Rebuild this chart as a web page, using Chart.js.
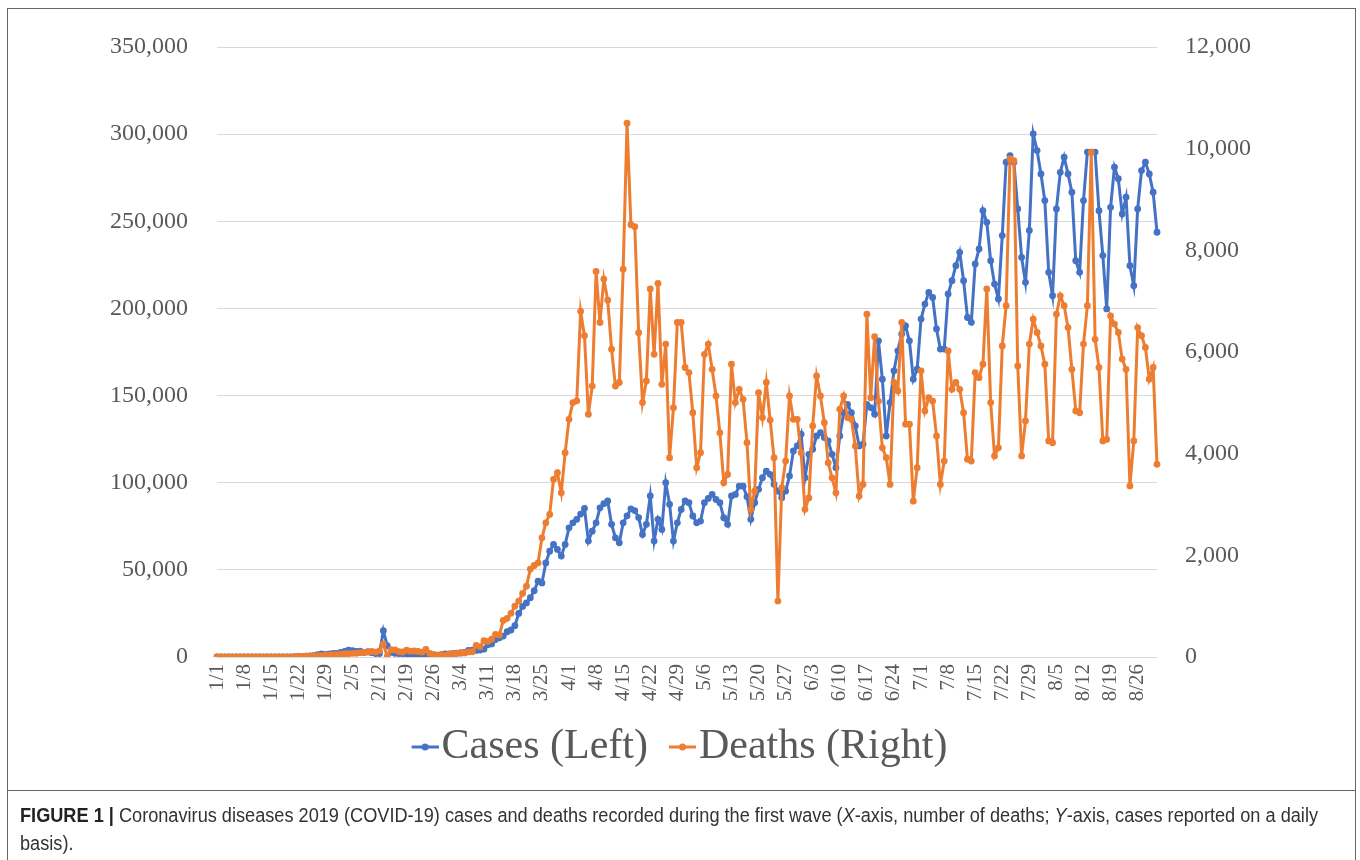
<!doctype html>
<html>
<head>
<meta charset="utf-8" />
<title>COVID-19 first wave</title>
<script src="https://cdn.jsdelivr.net/npm/chart.js@4.4.1/dist/chart.umd.min.js"></script>
<style>
  body { margin: 0; background: #fff; }
  #wrap { position: relative; width: 1360px; height: 860px; overflow: hidden; }
  #chart { position: absolute; left: 0; top: 0; }
  #frame { position: absolute; left: 7px; top: 8px; width: 1347px; height: 900px; border: 1px solid #666; pointer-events: none; }
  #sep { position: absolute; left: 7px; top: 790px; width: 1349px; height: 1px; background: #666; }
  #caption { position: absolute; left: 20px; top: 801px; font: 20px "Liberation Sans Narrow", "Liberation Sans", Arial, sans-serif; color: #333; line-height: 28px; white-space: nowrap; transform-origin: 0 0; }
  #caption b { color: #222; }
</style>
</head>
<body>
<div id="wrap">
  <canvas id="chart" width="1360" height="790"></canvas>
  <div id="frame"></div>
  <div id="sep"></div>
  <div id="caption"><span id="line1"><b>FIGURE 1 |</b> Coronavirus diseases 2019 (COVID-19) cases and deaths recorded during the first wave (<i>X</i>-axis, number of deaths; <i>Y</i>-axis, cases reported on a daily</span><br>basis).</div>
</div>

<script>
    // daily values, one array per month (2020)
    var casesJan = [0, 0, 0, 0, 0, 0, 0, 0, 0, 0, 0, 0, 0, 0, 0, 0, 0, 0, 0, 80,
        150, 100, 260, 450, 690, 780, 1300, 1750, 1450, 1740, 2000];
    var casesFeb = [2100, 2600, 3200, 3900, 3700, 3200, 3400, 2650, 3000, 2500,
        2000, 2000, 15100, 6500, 2600, 2100, 2000, 1900, 1800, 550,
        1000, 1000, 650, 500, 900, 900, 1100, 1300, 1800];
    var casesMar = [1800, 2000, 2200, 2300, 2700, 3800, 4000, 3800, 4000, 4500,
        7000, 7500, 10000, 11000, 12000, 14500, 15500, 18000, 25000, 29000,
        31000, 34000, 38000, 43500, 42500, 54000, 60700, 64600, 61700, 57900, 64600];
    var casesApr = [74100, 77000, 79000, 82000, 85300, 66500, 72200, 77000, 85600, 88000,
        89500, 76100, 68400, 65500, 77000, 81000, 85000, 84000, 80000, 70300,
        76100, 92400, 66500, 79000, 73200, 100000, 87600, 66500, 77000, 84700];
    var casesMay = [89500, 88500, 80900, 77000, 78000, 88500, 91000, 93300, 90400, 88500,
        79900, 76100, 92400, 93300, 98100, 98000, 92000, 79000, 88500, 96200,
        102900, 106700, 104800, 99100, 95200, 91400, 95200, 103900, 118200, 121100, 127800];
    var casesJun = [102900, 116300, 119200, 126800, 128700, 125900, 124000, 116300, 108600, 126800,
        140200, 145000, 140200, 132600, 121100, 122100, 145000, 143100, 139300, 181400,
        159400, 126800, 146000, 164200, 175700, 185300, 190000, 181400, 159400, 165200];
    var casesJul = [193900, 202500, 209200, 206300, 188200, 176700, 176700, 208300, 215900, 224500,
        232200, 215900, 194800, 192000, 225500, 234100, 256100, 249400, 227400, 214000,
        205400, 241800, 283900, 287700, 283900, 257100, 229300, 215000, 244700, 300200, 290600];
    var casesAug = [277200, 261900, 220700, 207300, 257100, 278100, 286800, 277200, 266700, 227400,
        220700, 261900, 289700, 289700, 289700, 256100, 230300, 199700, 258000, 281000,
        274400, 254200, 263800, 224500, 213000, 257100, 279100, 283900, 277200, 266700, 243700];

    var deathsJan = [0, 0, 0, 0, 0, 0, 0, 0, 0, 0, 1, 0, 0, 0, 0, 0, 0, 1, 0, 3,
        3, 17, 8, 16, 14, 26, 26, 26, 38, 43, 46];
    var deathsFeb = [45, 57, 64, 66, 73, 73, 86, 89, 97, 108,
        97, 121, 254, 13, 143, 142, 106, 98, 136, 115,
        118, 109, 97, 150, 71, 52, 29, 44, 37];
    var deathsMar = [58, 67, 72, 84, 80, 100, 103, 229, 200, 321,
        307, 349, 444, 434, 720, 760, 860, 1000, 1100, 1250,
        1393, 1730, 1800, 1850, 2345, 2640, 2805, 3495, 3625, 3230, 4020];
    var deathsApr = [4675, 5005, 5040, 6800, 6320, 4775, 5330, 7585, 6580, 7435,
        7020, 6055, 5330, 5400, 7630, 10500, 8505, 8465, 6380, 5005,
        5430, 7240, 5955, 7350, 5365, 6155, 3920, 4905, 6580, 6580];
    var deathsMay = [5695, 5595, 4805, 3725, 4020, 5955, 6155, 5660, 5135, 4410,
        3430, 3590, 5760, 5005, 5265, 5070, 4215, 2900, 3265, 5200,
        4710, 5400, 4660, 3920, 1100, 3330, 3855, 5135, 4675, 4675, 4020];
    var deathsJun = [2905, 3130, 4545, 5530, 5135, 4610, 3820, 3525, 3230, 4875,
        5135, 4710, 4675, 4150, 3165, 3395, 6745, 5100, 6300, 5035,
        4115, 3920, 3395, 5400, 5235, 6580, 4580, 4580, 3065, 3725];
    var deathsJul = [5630, 4840, 5100, 5035, 4350, 3395, 3855, 6020, 5265, 5400,
        5265, 4805, 3890, 3855, 5595, 5495, 5760, 7240, 5005, 3955,
        4115, 6120, 6910, 9800, 9765, 5725, 3955, 4645, 6155, 6645, 6385];
    var deathsAug = [6120, 5760, 4250, 4215, 6745, 7105, 6910, 6480, 5660, 4840,
        4805, 6155, 6910, 9930, 6250, 5695, 4250, 4280, 6710, 6550,
        6385, 5860, 5660, 3365, 4250, 6480, 6320, 6090, 5465, 5695, 3790];

    var shownTicks = ['1/1', '1/8', '1/15', '1/22', '1/29', '2/5', '2/12', '2/19', '2/26',
        '3/4', '3/11', '3/18', '3/25', '4/1', '4/8', '4/15', '4/22', '4/29', '5/6', '5/13',
        '5/20', '5/27', '6/3', '6/10', '6/17', '6/24', '7/1', '7/8', '7/15', '7/22', '7/29',
        '8/5', '8/12', '8/19', '8/26'];

    var cases = [].concat(casesJan, casesFeb, casesMar, casesApr, casesMay, casesJun, casesJul, casesAug);
    var deaths = [].concat(deathsJan, deathsFeb, deathsMar, deathsApr, deathsMay, deathsJun, deathsJul, deathsAug);

    // one category per day, 1/1 .. 8/31
    var days = [];
    for (var d = new Date(2020, 0, 1); days.length < cases.length; d.setDate(d.getDate() + 1)) {
        days.push((d.getMonth() + 1) + '/' + d.getDate());
    }

    var blue = '#4472c4';
    var orange = '#ed7d31';
    var tickFont = { family: 'Liberation Serif', size: 24 };
    var grey = '#595959';

    // legend marker: short line with a dot, like the spreadsheet legend
    function legendMark(color) {
        var c = document.createElement('canvas');
        c.width = 44; c.height = 10;
        var g = c.getContext('2d');
        g.strokeStyle = color; g.lineWidth = 3;
        g.beginPath(); g.moveTo(17, 5); g.lineTo(44, 5); g.stroke();
        g.fillStyle = color;
        g.beginPath(); g.arc(30.5, 5, 3.5, 0, Math.PI * 2); g.fill();
        return c;
    }
    var marks = [legendMark(blue), legendMark(orange)];

    var fmt = function (v) { return v.toLocaleString('en-US'); };

    var ctx = document.getElementById('chart').getContext('2d');
    var myChart = new Chart(ctx, {
        type: 'line',
        data: {
            labels: days,
            datasets: [{
                label: 'Cases (Left)',
                data: cases,
                yAxisID: 'y',
                borderColor: blue,
                backgroundColor: blue,
                borderWidth: 3,
                pointRadius: 3.4,
                pointBorderWidth: 0,
                order: 1
            }, {
                label: 'Deaths (Right)',
                data: deaths,
                yAxisID: 'y1',
                borderColor: orange,
                backgroundColor: orange,
                borderWidth: 3,
                pointRadius: 3.4,
                pointBorderWidth: 0,
                order: 0
            }]
        },
        options: {
            responsive: false,
            animation: false,
            layout: { padding: { top: 47, bottom: 12, left: 0, right: 0 } },
            plugins: {
                tooltip: { enabled: false },
                legend: {
                    position: 'bottom',
                    labels: {
                        usePointStyle: true,
                        pointStyleWidth: 8,
                        padding: 22,
                        color: grey,
                        font: { family: 'Liberation Serif', size: 42 },
                        sort: function (a, b) { return a.datasetIndex - b.datasetIndex; },
                        generateLabels: function (chart) {
                            var items = Chart.defaults.plugins.legend.labels.generateLabels(chart);
                            items.forEach(function (it) { it.pointStyle = marks[it.datasetIndex]; });
                            return items;
                        }
                    }
                }
            },
            scales: {
                x: {
                    grid: { display: false, drawTicks: false },
                    border: { display: false },
                    ticks: {
                        autoSkip: false,
                        minRotation: 90,
                        maxRotation: 90,
                        padding: 7,
                        color: grey,
                        font: { family: 'Liberation Serif', size: 21 },
                        callback: function (v) {
                            var l = this.getLabelForValue(v);
                            return shownTicks.indexOf(l) >= 0 ? l : '';
                        }
                    },
                    afterFit: function (s) { s.height = 47; }
                },
                y: {
                    position: 'left',
                    min: 0,
                    max: 350000,
                    ticks: { stepSize: 50000, padding: 29, color: grey, font: tickFont, callback: fmt },
                    grid: { color: '#d9d9d9', drawTicks: false },
                    border: { display: false },
                    afterFit: function (s) { s.width = 217; }
                },
                y1: {
                    position: 'right',
                    min: 0,
                    max: 12000,
                    ticks: { stepSize: 2000, padding: 28, color: grey, font: tickFont, callback: fmt },
                    grid: { display: false, drawTicks: false },
                    border: { display: false },
                    afterFit: function (s) { s.width = 203; }
                }
            }
        }
    });

    // squeeze the caption so its first line ends where the original does
    var line1 = document.getElementById('line1');
    var cap = document.getElementById('caption');
    var w = line1.getBoundingClientRect().width;
    cap.style.transform = 'scaleX(' + (1298 / w) + ')';
</script>
</body>
</html>
